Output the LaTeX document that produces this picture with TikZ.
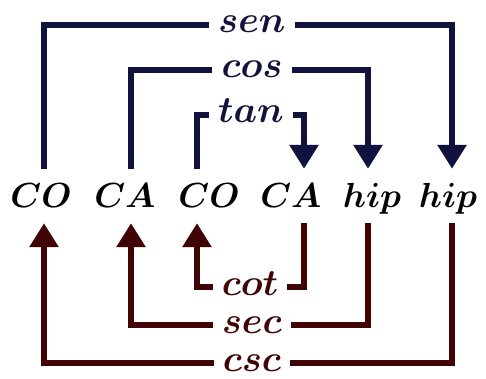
\documentclass[tikz,border=0pt]{standalone}
\usepackage{amsmath}
\usetikzlibrary{arrows.meta}
\definecolor{navyc}{RGB}{18,18,62}
\definecolor{maroonc}{RGB}{64,4,4}
\newcommand{\bx}[1]{\scalebox{1.4}{\Huge$\boldsymbol{#1}$}}
\newcommand{\fx}[1]{\scalebox{1.5}{\Huge$\boldsymbol{#1}$}}
\begin{document}
\begin{tikzpicture}[x=1pt,y=-1pt,
  word/.style={text height=22pt, text depth=0pt, inner xsep=0pt, inner ysep=16pt, anchor=base},
  fn/.style={text height=16pt, text depth=0pt, inner xsep=9pt, inner ysep=0pt},
  upl/.style={navyc, line width=6pt, line join=miter},
  dnl/.style={maroonc, line width=6pt, line join=miter},
  tipa/.style={-{Triangle[width=28pt,length=24pt]}}
]
\useasboundingbox[fill=white] (0,0) rectangle (486,379);
\node[word] (co1) at (41,207) {\bx{CO}};
\node[word] (ca1) at (125,207) {\bx{CA}};
\node[word] (co2) at (209,207) {\bx{CO}};
\node[word] (ca2) at (291,207) {\bx{CA}};
\node[word] (hip1) at (372,207) {\bx{hip}};
\node[word] (hip2) at (448,207) {\bx{hip}};

\node[fn, text=navyc] (sen) at (252,25) {\fx{sen}};
\node[fn, text=navyc] (cos) at (252,70) {\fx{cos}};
\node[fn, text=navyc] (tan) at (251,115) {\fx{tan}};
\node[fn, text=maroonc] (cot) at (250,287) {\fx{cot}};
\node[fn, text=maroonc] (sec) at (252,325) {\fx{sec}};
\node[fn, text=maroonc] (csc) at (252,363) {\fx{csc}};

\draw[upl] ([xshift=3pt]co1.north) |- (sen.west);
\draw[upl,tipa] (sen.east) -| ([xshift=4pt]hip2.north);
\draw[upl] ([xshift=6pt]ca1.north) |- (cos.west);
\draw[upl,tipa] (cos.east) -| ([xshift=-4pt]hip1.north);
\draw[upl] ([xshift=-12pt]co2.north) |- (tan.west);
\draw[upl,tipa] (tan.east) -| ([xshift=13pt]ca2.north);

\draw[dnl,tipa] (csc.west) -| ([xshift=3pt]co1.south);
\draw[dnl] (csc.east) -| ([xshift=4pt]hip2.south);
\draw[dnl,tipa] (sec.west) -| ([xshift=6pt]ca1.south);
\draw[dnl] (sec.east) -| ([xshift=-4pt]hip1.south);
\draw[dnl,tipa] (cot.west) -| ([xshift=-12pt]co2.south);
\draw[dnl] (cot.east) -| ([xshift=13pt]ca2.south);
\end{tikzpicture}
\end{document}
